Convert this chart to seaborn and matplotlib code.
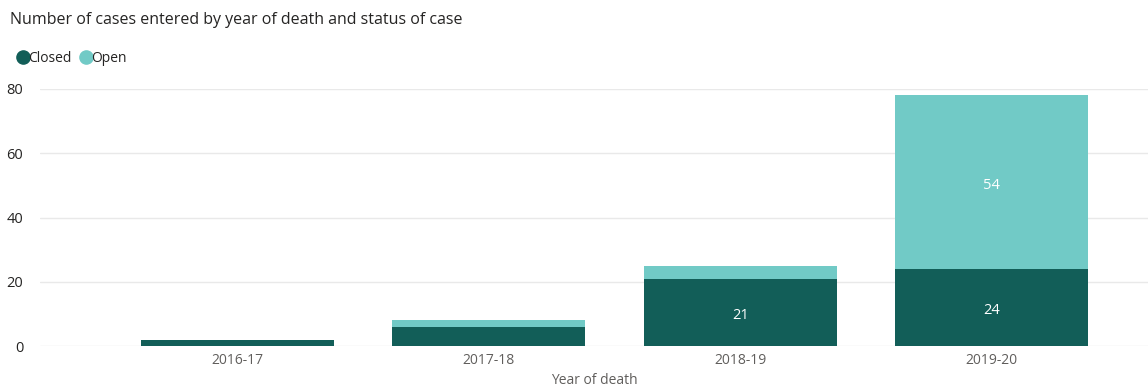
import matplotlib
matplotlib.use("Agg")
import matplotlib.pyplot as plt
from matplotlib.lines import Line2D
import seaborn as sns
import pandas as pd

years = ["2016-17", "2017-18", "2018-19", "2019-20"]
closed = [2, 6, 21, 24]
open_ = [0, 2, 4, 54]

C_CLOSED = "#125E58"
C_OPEN = "#71CAC6"

sns.set_theme(style="white")
plt.rcParams['font.family'] = ['Open Sans', 'DejaVu Sans']

df = pd.DataFrame({"year": years, "Closed": closed, "Open": open_})
df["Total"] = df["Closed"] + df["Open"]

fig = plt.figure(figsize=(11.48, 3.90), dpi=100)
W, H = 1148, 390
ax = fig.add_axes([40 / W, (H - 346) / H, (1148 - 40) / W, (346 - 89) / H])

bw = 0.767
sns.barplot(data=df, x="year", y="Total", color=C_OPEN, width=bw, ax=ax,
            saturation=1, linewidth=0, zorder=3)
sns.barplot(data=df, x="year", y="Closed", color=C_CLOSED, width=bw, ax=ax,
            saturation=1, linewidth=0, zorder=3)

ax.set_xlim(-0.785, 3.622)
ax.set_ylim(0, 80)
ax.set_yticks([0, 20, 40, 60, 80])
ax.yaxis.grid(True, color="#E9E9E9", linewidth=1, zorder=0)
ax.set_axisbelow(True)
for s in ax.spines.values():
    s.set_visible(False)
ax.tick_params(axis="y", length=0, labelsize=10.5, colors="#252423", pad=12)
ax.tick_params(axis="x", length=0, labelsize=10, colors="#605E5C", pad=5)
ax.set_ylabel("")
ax.set_xlabel("Year of death", fontsize=10, color="#605E5C", labelpad=4)

# data labels for segments tall enough
for i, (c, o) in enumerate(zip(closed, open_)):
    if c >= 10:
        ax.text(i, c / 2 - 1, str(c), ha="center", va="center", color="white",
                fontsize=10.5, zorder=5)
    if o >= 10:
        ax.text(i, c + o / 2 - 1, str(o), ha="center", va="center", color="white",
                fontsize=10.5, zorder=5)

fig.text(10 / W, 1 - 20 / H, "Number of cases entered by year of death and status of case",
         ha="left", va="center", fontsize=11.5, color="#252423")

handles = [Line2D([0], [0], marker="o", linestyle="", markersize=9.5,
                  markerfacecolor=C_CLOSED, markeredgecolor=C_CLOSED),
           Line2D([0], [0], marker="o", linestyle="", markersize=9.5,
                  markerfacecolor=C_OPEN, markeredgecolor=C_OPEN)]
fig.legend(handles, ["Closed", "Open"], loc="center left",
           bbox_to_anchor=(2 / W, 1 - 58 / H), ncol=2, frameon=False,
           handletextpad=-0.2, columnspacing=0.4, handlelength=1.2,
           fontsize=10, labelcolor="#252423")

fig.savefig("out.png", dpi=100)
